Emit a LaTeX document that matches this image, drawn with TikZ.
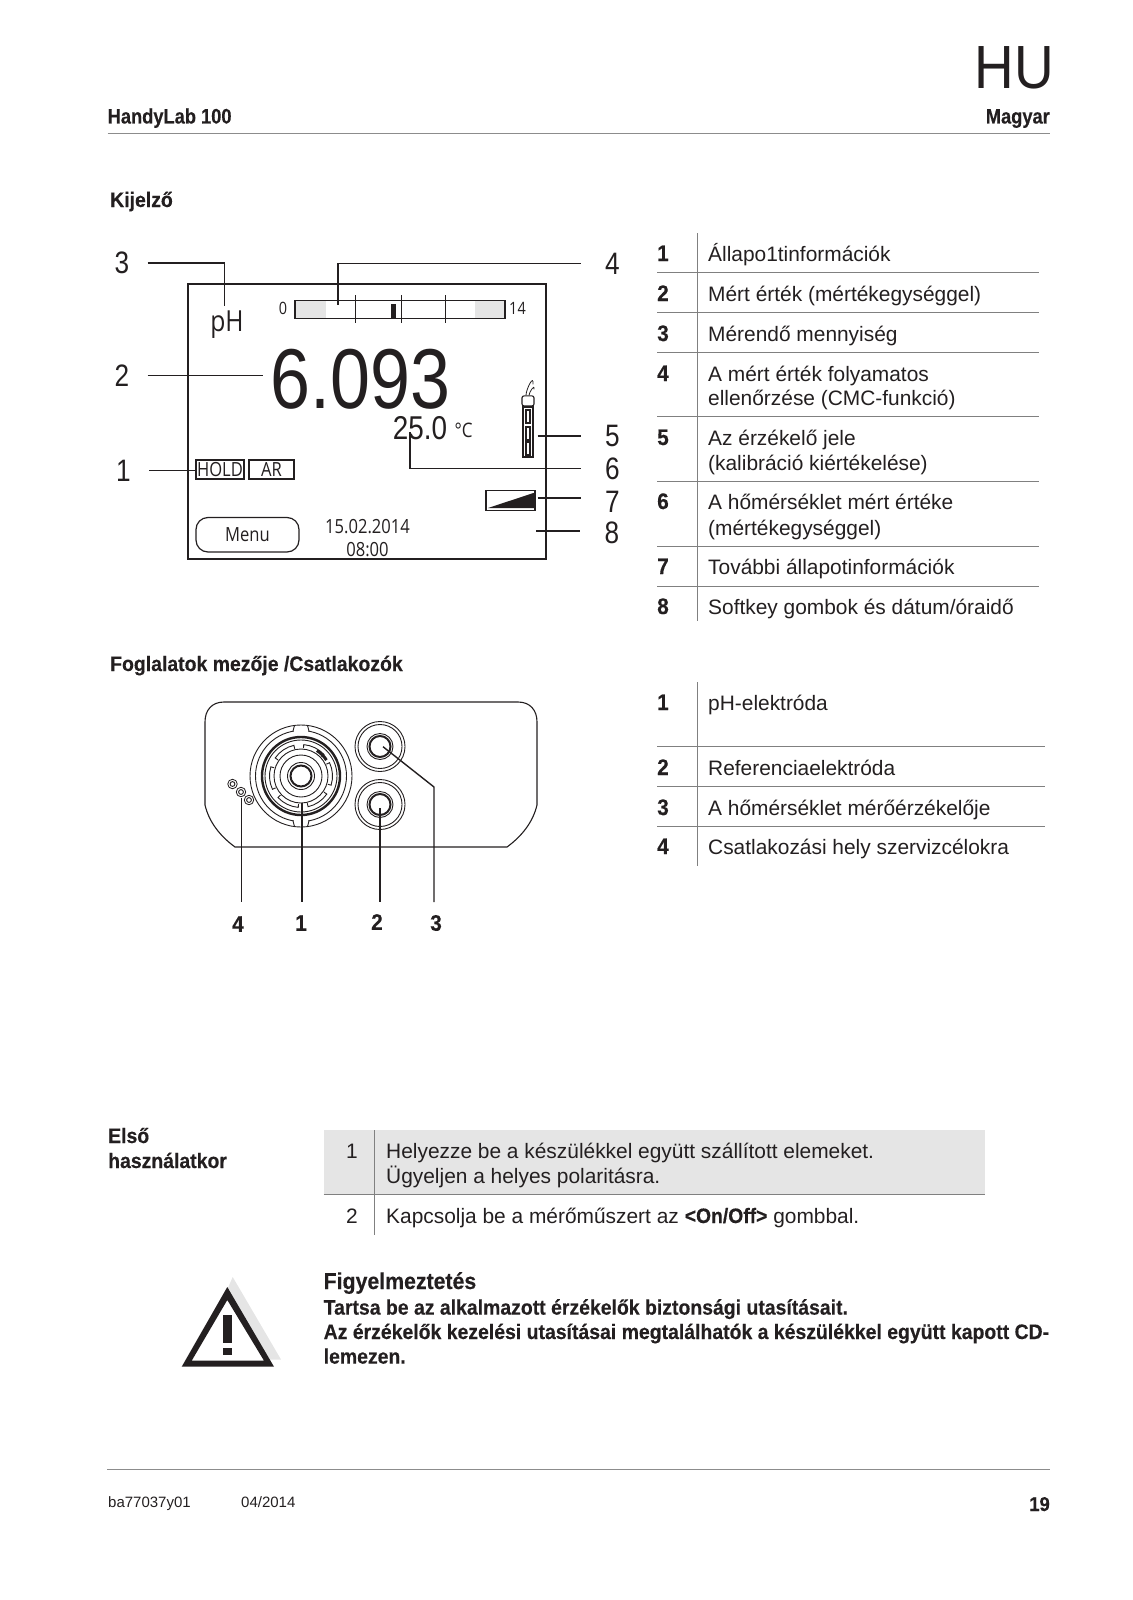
\documentclass[tikz,border=0pt]{standalone}
\usepackage{fontspec}
\setmainfont{Liberation Sans}
\newfontfamily\lcdfont[FakeStretch=0.85]{Open Sans}
\newfontfamily\valfont[FakeStretch=0.845]{Liberation Sans}
\newfontfamily\hufont[FakeStretch=0.9]{Liberation Sans}
\newfontfamily\tightfont[FakeStretch=0.925,BoldFeatures={FakeBold=0.35}]{Liberation Sans}
\newfontfamily\headfont[FakeStretch=0.87,BoldFeatures={FakeBold=0.35}]{Liberation Sans}
\usetikzlibrary{positioning,calc}
\definecolor{ink}{HTML}{231F20}

\begin{document}
\begin{tikzpicture}[
    x=1pt, y=-1pt,
    txt/.style={anchor=base west, inner sep=0pt, text=ink, font=\fontsize{20.9}{25}\selectfont},
    boldtxt/.style={txt, font=\tightfont\fontsize{21}{25}\selectfont\bfseries},
    headtxt/.style={txt, font=\headfont\fontsize{21}{25}\selectfont\bfseries},
    rownum/.style={boldtxt, font=\tightfont\fontsize{22.5}{25}\selectfont\bfseries},
    rowrule/.style={draw=black!50, line width=0.8pt},
    pagerule/.style={draw=black!45, line width=1pt},
    numL/.style={font=\valfont\fontsize{31}{31}\selectfont, text=ink, inner sep=0pt, minimum width=51pt},
    numR/.style={font=\valfont\fontsize{31}{31}\selectfont, text=ink, inner sep=0pt, minimum width=63pt},
    numB/.style={font=\tightfont\fontsize{22.5}{22}\selectfont\bfseries, text=ink, inner sep=0pt, minimum height=42pt},
    leader/.style={draw=ink, line width=1.4pt},
    lcd/.style={font=\lcdfont\fontsize{19.5}{20}\selectfont, text=ink, inner sep=0pt},
    lcdbox/.style={lcd, draw=ink, line width=1.2pt, minimum height=19pt},
    ring/.style={draw=ink, line width=0.9pt},
    tick/.style={draw=ink, line width=0.9pt},
]
\useasboundingbox (0,0) rectangle (1132,1600);

% ---------- page head ----------
\node[txt, anchor=base east, font=\hufont\fontsize{61}{61}\selectfont] (hu) at (1054,89) {HU};
\node[headtxt] (head) at (107.5,123.5) {HandyLab 100};
\node[headtxt, anchor=base east] (lang) at (1050,123.5) {Magyar};
\draw[pagerule] (head.south west |- 0,134) -- (1050,134);
\node[boldtxt] (sec1) at (110,207) {Kijelző};
\node[boldtxt] (sec2) at (110,671) {Foglalatok mezője /Csatlakozók};

% ---------- display frame ----------
\node[draw=ink, line width=1.4pt, minimum width=358pt, minimum height=275pt, inner sep=0pt] (screen) at (367,421.5) {};
\fill[black!10] (295,301) rectangle (325.6,318);
\fill[black!10] (475,301) rectangle (505,318);
\node[draw=ink, line width=1.2pt, minimum width=210pt, minimum height=18pt, inner sep=0pt] (bar) at (400,309.5) {};
\foreach \x in {355,401,445} { \draw[tick] (\x,295) -- (\x,322.5); }
\fill[ink] (391,304) rectangle (396,318);
\node[lcd, font=\lcdfont\fontsize{17}{17}\selectfont] (bar0) at (283,308.5) {0};
\node[lcd, font=\lcdfont\fontsize{17}{17}\selectfont] (bar14) at (517.5,308.5) {14};
\node[lcd, font=\lcdfont\fontsize{29}{29}\selectfont, anchor=base] (ph) at (227,331.5) {pH};
\node[font=\valfont\fontsize{85}{85}\selectfont, text=ink, anchor=base, inner xsep=7pt, inner ysep=0pt] (val) at (360.5,408) {6.093};
\node[font=\valfont\fontsize{33}{33}\selectfont, text=ink, anchor=base, inner sep=0pt] (temp) at (420,439) {25.0};
\node[lcd, font=\lcdfont\fontsize{20}{20}\selectfont, anchor=base] (degc) at (463.5,437) {°C};
\node[lcdbox, minimum width=48pt] (hold) at (220,469.5) {HOLD};
\node[lcdbox, minimum width=45pt] (ar) at (271.5,469.5) {AR};
\node[lcd, draw=ink, line width=1.2pt, rounded corners=12pt, minimum width=103pt, minimum height=34.5pt] (menu) at (247.5,534.75) {Menu};
\node[lcd] (date) at (367.5,526.5) {15.02.2014};
\node[lcd] (clock) at (367.5,549.5) {08:00};

% probe symbol
\node[draw=ink, line width=1.1pt, minimum width=10pt, minimum height=50pt, inner sep=0pt] (tube) at (528,432) {};
\node[draw=ink, line width=1.1pt, rounded corners=2pt, minimum width=12pt, minimum height=10pt, inner sep=0pt, above=0pt of tube] (cap) {};
\foreach \y in {410,427,442} { \draw[ink, line width=1.2pt] (526,\y) rectangle (530,\y+13); }
\draw[ink, line width=0.8pt] (cap.north) ++(-2,0) .. controls ++(0,-6) and ++(1,-11) .. ++(7,-11);
\draw[ink, line width=0.8pt] (cap.north) ++(1,0) .. controls ++(0,-3) and ++(1,-6) .. ++(5,-6);

% battery symbol
\node[draw=ink, line width=1.2pt, minimum width=49pt, minimum height=20pt, inner sep=0pt] (batt) at (510.5,500.5) {};
\fill[ink] (488,508) -- (535,492.5) -- (535,508) -- cycle;

% ---------- display call-outs ----------
\node[numL] (n3) at (122,263) {3};
\node[numL] (n2) at (122,375.5) {2};
\node[numL] (n1) at (123.5,470.5) {1};
\node[numR] (n4) at (612.5,263.5) {4};
\node[numR] (n5) at (612.5,435.5) {5};
\node[numR] (n6) at (612.5,468.5) {6};
\node[numR] (n7) at (612.5,502) {7};
\node[numR] (n8) at (612,533) {8};
\coordinate (phIn) at (224.5,306);
\coordinate (barIn) at (338,305);
\coordinate (tempIn) at (410,432);
\coordinate (tubeR) at (537.5,436);
\coordinate (battR) at (537.5,498);
\coordinate (softR) at (536,531);
\draw[leader] (n3.east) -| (phIn);
\draw[leader] (n2.east) -- (n2.east -| val.west);
\draw[leader] (n1.east) -- (n1.east -| hold.west);
\draw[leader] (n4.west) -| (barIn);
\draw[leader] (tubeR) -- (tubeR -| n5.west);
\draw[leader] (tempIn) |- (n6.west);
\draw[leader] (battR) -- (battR -| n7.west);
\draw[leader] (softR) -- (softR -| n8.west);

% ---------- table: display ----------
\draw[rowrule] (697,233) -- (697,621);
\foreach \y in {272.5,312,352,416.5,481,546,586} { \draw[rowrule] (657,\y) -- (1039,\y); }
\foreach \i/\y in {1/261,2/301,3/341,4/381,5/445,6/509,7/574,8/614} {
  \node[rownum] (a\i) at (657,\y) {\i};
}
\foreach \i/\y/\s in {a/261/{Állapo1tinformációk},
    b/301/{Mért érték (mértékegységgel)},
    c/341/{Mérendő mennyiség},
    d/381/{A mért érték folyamatos},
    e/405/{ellenőrzése (CMC-funkció)},
    f/445/{Az érzékelő jele},
    g/470/{(kalibráció kiértékelése)},
    h/509/{A hőmérséklet mért értéke},
    i/535/{(mértékegységgel)},
    j/574/{További állapotinformációk},
    k/614/{Softkey gombok és dátum/óraidő}} {
  \node[txt] (at\i) at (708,\y) {\s};
}

% ---------- sockets ----------
\draw[draw=ink, line width=1.1pt] (205,805) -- (205,722) .. controls (205,710) and (212,702) .. (224,702)
  -- (518,702) .. controls (530,702) and (537,710) .. (537,722) -- (537,805)
  .. controls (533,822) and (522,836) .. (507,847) -- (235,847)
  .. controls (220,836) and (209,822) .. (205,805);

\node[circle, inner sep=0pt, minimum size=2pt] (bnc) at (301,776) {};
\foreach \r in {51,45.5,36,27,21,13.5} { \draw[ring] (bnc) circle (\r); }
\draw[ink, line width=2.4pt] (bnc) circle (39);
\draw[ink, line width=2pt] (bnc) circle (10.5);
\foreach \a in {-85,-25,35,95,155,215} {
  \draw[ring] (bnc) ++(\a:28) -- ++(\a:3.5) arc (\a:\a+42:31.5) -- ++(\a+222:3.5);
}
\draw[ink, line width=3pt] (bnc) ++(-58:30) arc (-58:-32:30);
\foreach \s in {1,-1} {
  \fill[white] ($(bnc)+(-7,-46*\s)$) rectangle ($(bnc)+(7,-44*\s)$);
  \draw[ring] ($(bnc)+(-8,-45*\s)$) -- ($(bnc)+(-6.5,-50.5*\s)$);
  \draw[ring] ($(bnc)+(8,-45*\s)$) -- ($(bnc)+(6.5,-50.5*\s)$);
}

\foreach \nm/\y in {jackT/746.5,jackB/804.5} {
  \node[circle, inner sep=0pt, minimum size=2pt] (\nm) at (380,\y) {};
  \draw[ring] (\nm) circle (25);
  \draw[ring] (\nm) circle (22);
  \draw[ink, line width=2pt] (\nm) circle (10.5);
  \draw[ring] (\nm) circle (13);
}
\foreach \nm/\x/\y in {svcA/232.5/784,svcB/241/792,svcC/249/800} {
  \node[circle, draw=ink, line width=0.8pt, minimum size=9.5pt, inner sep=0pt] (\nm) at (\x,\y) {};
  \draw[ring] (\nm) circle (2.4);
}

% ---------- socket call-outs ----------
\node[numB] (s4) at (238,924) {4};
\node[numB] (s1) at (301,923) {1};
\node[numB] (s2) at (377,922) {2};
\node[numB] (s3) at (436,923) {3};
\coordinate (inS4) at (241.5,798);
\coordinate (inS1) at (302,803);
\coordinate (inS2) at (380,808);
\coordinate (inS3) at (383,746.7);
\coordinate (bendS3) at (434,787);
\draw[leader] (inS4) -- (inS4 |- 0,902);
\draw[leader] (inS1) -- (inS1 |- 0,902);
\draw[leader] (inS2) -- (inS2 |- 0,902);
\draw[leader] (inS3) -- (bendS3) -- (bendS3 |- 0,902);

% ---------- table: sockets ----------
\draw[rowrule] (697,682) -- (697,866);
\foreach \y in {746,786,826} { \draw[rowrule] (657,\y) -- (1045,\y); }
\foreach \i/\y/\s in {1/710/{pH-elektróda},
    2/775/{Referenciaelektróda},
    3/815/{A hőmérséklet mérőérzékelője},
    4/854/{Csatlakozási hely szervizcélokra}} {
  \node[rownum] (bn\i) at (657,\y) {\i};
  \node[txt] (bt\i) at (708,\y) {\s};
}

% ---------- first use ----------
\node[boldtxt] (first1) at (108,1143) {Első};
\node[boldtxt] (first2) at (108,1168) {használatkor};
\fill[black!10] (323.5,1130) rectangle (985,1194);
\draw[rowrule] (323.5,1194) -- (985,1194);
\draw[rowrule] (374.5,1130) -- (374.5,1235);
\node[txt, anchor=base] (st1) at (352,1158.5) {1};
\node[txt, anchor=base] (st2) at (352,1223) {2};
\node[txt] (st1a) at (386,1158.5) {Helyezze be a készülékkel együtt szállított elemeket.};
\node[txt] (st1b) at (386,1183) {Ügyeljen a helyes polaritásra.};
\node[txt] (st2a) at (386,1223) {Kapcsolja be a mérőműszert az {\tightfont\bfseries <On/Off>} gombbal.};

% ---------- warning ----------
\fill[black!10] (232.7,1277) -- (281,1359.5) -- (264,1359.5) -- (227,1290) -- cycle;
\fill[ink, even odd rule] (227.3,1287) -- (274,1366.7) -- (181.7,1366.7) -- cycle
  (227.3,1300) -- (264,1360.7) -- (191.7,1360.7) -- cycle;
\fill[ink] (223.3,1315) rectangle (231.7,1343.3);
\fill[ink] (223.3,1348) rectangle (231.7,1355);
\node[boldtxt, font=\tightfont\fontsize{23}{25}\selectfont\bfseries] (warn0) at (323.5,1289) {Figyelmeztetés};
\node[boldtxt] (warn1) at (323.5,1314.6) {Tartsa be az alkalmazott érzékelők biztonsági utasításait.};
\node[boldtxt] (warn2) at (323.5,1339) {Az érzékelők kezelési utasításai megtalálhatók a készülékkel együtt kapott CD-};
\node[boldtxt] (warn3) at (323.5,1363.6) {lemezen.};

% ---------- foot ----------
\draw[pagerule] (107,1469) -- (1050,1469);
\node[txt, font=\fontsize{15}{15}\selectfont] (doc) at (108,1507) {ba77037y01};
\node[txt, font=\fontsize{15}{15}\selectfont] (docdate) at (241,1507) {04/2014};
\node[boldtxt, anchor=base east, font=\tightfont\fontsize{20}{20}\selectfont\bfseries] (pg) at (1050,1511) {19};

\end{tikzpicture}
\end{document}
